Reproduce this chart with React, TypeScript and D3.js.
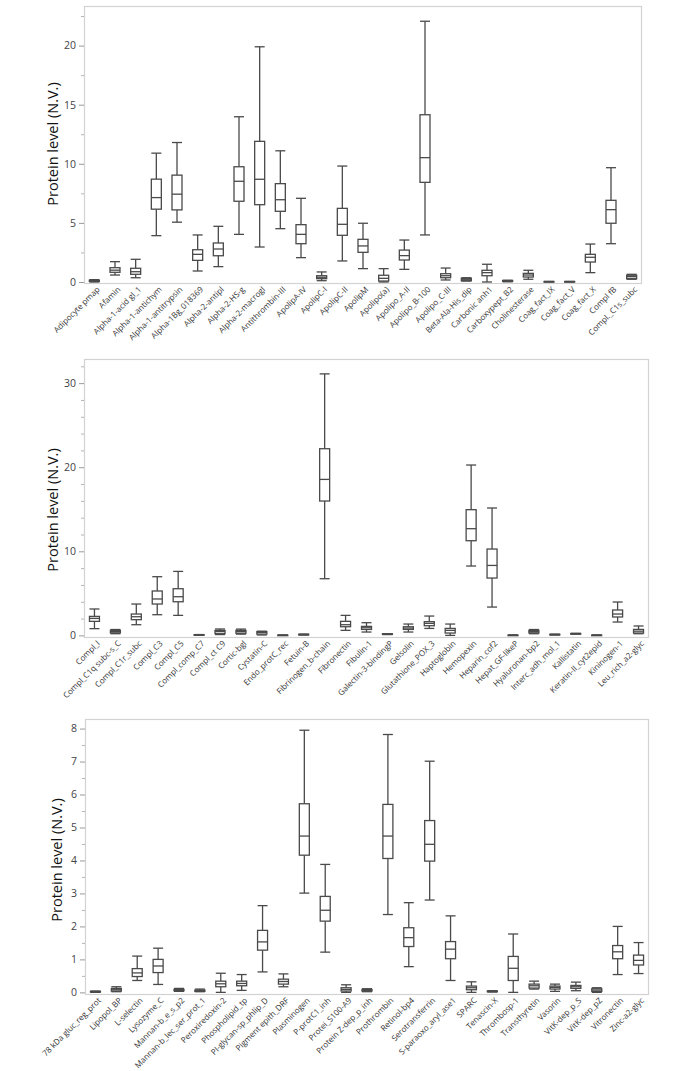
import { useEffect, useRef } from 'react'
import * as d3 from 'd3'

// panel 1
const names1 = ['Adipocyte pmap', 'Afamin', 'Alpha-1-acid gl_1', 'Alpha-1-antichym', 'Alpha-1-antitrypsin', 'Alpha-1Bg_018369', 'Alpha-2-antipl', 'Alpha-2-HS-g', 'Alpha-2-macrogl', 'Antithrombin-III', 'ApolipA-IV', 'ApolipC-I', 'ApolipC-II', 'ApolipM', 'Apolipo(a)', 'Apolipo_A-II', 'Apolipo_B-100', 'Apolipo_C-III', 'Beta-Ala-His_dip', 'Carbonic anh1', 'Carboxypept_B2', 'Cholinesterase', 'Coag_fact_IX', 'Coag_fact_V', 'Coag_fact_X', 'Compl fB', 'Compl._C1s_subc']
const lo1 = [0.0, 0.59, 0.36, 3.92, 5.06, 0.93, 1.3, 4.03, 2.96, 4.51, 2.06, 0.11, 1.78, 1.13, 0.0, 1.07, 3.98, 0.17, 0.08, 0.0, 0.02, 0.23, 0.01, 0.01, 0.79, 3.24, 0.23]
const q1s1 = [0.05, 0.82, 0.65, 6.16, 6.1, 1.83, 2.22, 6.83, 6.54, 5.98, 3.24, 0.28, 3.95, 2.51, 0.08, 1.86, 8.43, 0.36, 0.11, 0.53, 0.05, 0.42, 0.02, 0.02, 1.69, 4.97, 0.28]
const med1 = [0.1, 1.0, 0.87, 7.14, 7.43, 2.34, 2.79, 8.52, 8.69, 6.96, 4.03, 0.4, 4.88, 3.05, 0.31, 2.23, 10.52, 0.53, 0.23, 0.79, 0.08, 0.59, 0.03, 0.03, 2.09, 6.12, 0.45]
const q3s1 = [0.15, 1.21, 1.16, 8.7, 9.04, 2.73, 3.3, 9.75, 11.9, 8.32, 4.85, 0.53, 6.23, 3.61, 0.57, 2.7, 14.15, 0.7, 0.31, 0.99, 0.12, 0.73, 0.04, 0.04, 2.34, 6.91, 0.57]
const hi1 = [0.2, 1.72, 1.92, 10.9, 11.8, 3.98, 4.71, 13.98, 19.9, 11.1, 7.08, 0.85, 9.81, 4.97, 1.13, 3.55, 22.06, 1.18, 0.36, 1.5, 0.15, 0.99, 0.05, 0.05, 3.21, 9.67, 0.65]

// panel 2
const names2 = ['Compl_I', 'Compl_C1q subc-s_C', 'Compl_C1r_subc', 'Compl_C3', 'Compl_C5', 'Compl_comp_C7', 'Compl_ct C9', 'Cortic-bgl', 'Cystatin-C', 'Endo_protC_rec', 'Fetuin-B', 'Fibrinogen_b-chain', 'Fibronectin', 'Fibulin-1', 'Galectin-3-bindingP', 'Gelsolin', 'Glutathione_POX_3', 'Haptoglobin', 'Hemopexin', 'Heparin_cof2', 'Hepat_GF-likeP', 'Hyaluronan-bp2', 'Interc_adh_mol_1', 'Kallistatin', 'Keratin-II_cyt2epid', 'Kininogen-1', 'Leu_rich_a2-glyc']
const lo2 = [0.8, 0.2, 1.27, 2.46, 2.38, 0.02, 0.1, 0.15, 0.05, 0.0, 0.05, 6.74, 0.6, 0.4, 0.1, 0.4, 0.83, 0.0, 8.25, 3.37, 0.0, 0.2, 0.05, 0.15, 0.0, 1.59, 0.2]
const q1s2 = [1.67, 0.3, 1.87, 3.73, 4.0, 0.04, 0.2, 0.25, 0.15, 0.01, 0.07, 15.98, 1.03, 0.71, 0.12, 0.71, 1.15, 0.28, 11.26, 6.82, 0.01, 0.3, 0.08, 0.18, 0.01, 2.19, 0.28]
const med2 = [2.02, 0.45, 2.22, 4.33, 4.6, 0.06, 0.45, 0.45, 0.35, 0.02, 0.1, 18.55, 1.27, 0.91, 0.15, 0.87, 1.43, 0.6, 12.69, 8.32, 0.02, 0.45, 0.1, 0.2, 0.02, 2.54, 0.5]
const q3s2 = [2.26, 0.6, 2.54, 5.28, 5.55, 0.08, 0.6, 0.6, 0.45, 0.03, 0.13, 22.2, 1.67, 1.07, 0.18, 1.03, 1.63, 0.83, 14.95, 10.27, 0.03, 0.6, 0.12, 0.22, 0.03, 3.02, 0.71]
const hi2 = [3.14, 0.7, 3.73, 6.98, 7.61, 0.1, 0.76, 0.75, 0.5, 0.04, 0.15, 31.1, 2.38, 1.51, 0.2, 1.35, 2.3, 1.35, 20.26, 15.15, 0.04, 0.7, 0.15, 0.25, 0.04, 3.97, 1.12]

// panel 3
const names3 = ['78 kDa gluc_reg_prot', 'Lipopol_BP', 'L-selectin', 'Lysozyme_C', 'Mannan-b_e_s_p2', 'Mannan-b_lec_ser_prot_1', 'Peroxiredoxin-2', 'Phospholipid_tp', 'PI-glycan-sp_phlip_D', 'Pigment epith_DRF', 'Plasminogen', 'P-protC1_inh', 'Protei_S100-A9', 'Protein Z-dep_p_inh', 'Prothrombin', 'Retinol-bp4', 'Serotransferrin', 'S-paraoxo_aryl_ase1', 'SPARC', 'Tenascin-X', 'Thrombosp-1', 'Transthyretin', 'Vasorin', 'VitK-dep_p_S', 'VitK-dep_pZ', 'Vitronectin', 'Zinc-a2-glyc']
const lo3 = [0.0, 0.02, 0.36, 0.24, 0.03, 0.02, 0.0, 0.06, 0.62, 0.17, 3.01, 1.22, 0.0, 0.02, 2.36, 0.78, 2.8, 0.36, 0.0, 0.01, 0.0, 0.1, 0.03, 0.05, 0.0, 0.54, 0.57]
const q1s3 = [0.01, 0.04, 0.48, 0.6, 0.05, 0.03, 0.17, 0.2, 1.28, 0.25, 4.16, 2.16, 0.04, 0.04, 4.06, 1.39, 3.98, 1.02, 0.08, 0.02, 0.36, 0.13, 0.1, 0.12, 0.03, 1.02, 0.83]
const med3 = [0.02, 0.08, 0.59, 0.8, 0.07, 0.05, 0.26, 0.27, 1.53, 0.33, 4.74, 2.49, 0.09, 0.06, 4.74, 1.66, 4.49, 1.31, 0.14, 0.03, 0.73, 0.2, 0.15, 0.17, 0.07, 1.23, 0.97]
const q3s3 = [0.03, 0.12, 0.72, 1.0, 0.09, 0.07, 0.34, 0.34, 1.88, 0.4, 5.72, 2.91, 0.14, 0.09, 5.7, 1.96, 5.21, 1.54, 0.19, 0.04, 1.09, 0.25, 0.19, 0.21, 0.11, 1.42, 1.13]
const hi3 = [0.04, 0.17, 1.1, 1.34, 0.12, 0.1, 0.58, 0.54, 2.63, 0.56, 7.95, 3.88, 0.23, 0.11, 7.82, 2.72, 7.01, 2.32, 0.32, 0.05, 1.77, 0.34, 0.25, 0.31, 0.14, 2.0, 1.51]

const yTicks1 = [0, 5, 10, 15, 20]
const yTicks2 = [0, 10, 20, 30]
const yTicks3 = [0, 1, 2, 3, 4, 5, 6, 7, 8]

const yTitle = 'Protein level (N.V.)'

const panels = [
  { names: names1, lo: lo1, q1: q1s1, med: med1, q3: q3s1, hi: hi1, ticks: yTicks1, minor: 2.5, domain: [-0.17, 23.35], left: 84, right: 642, top: 6, bottom: 284, titleX: 53, titleY: 144 },
  { names: names2, lo: lo2, q1: q1s2, med: med2, q3: q3s2, hi: hi2, ticks: yTicks2, minor: 2, domain: [-0.31, 32.87], left: 84, right: 649, top: 359, bottom: 638, titleX: 53, titleY: 510 },
  { names: names3, lo: lo3, q1: q1s3, med: med3, q3: q3s3, hi: hi3, ticks: yTicks3, minor: 0.5, domain: [-0.08, 8.29], left: 85, right: 649, top: 719, bottom: 995, titleX: 57, titleY: 860 },
]

const font = "'Open Sans', 'Noto Sans', sans-serif"

export default function App() {
  const ref = useRef<SVGSVGElement>(null)

  useEffect(() => {
    if (!ref.current) return
    const svg = d3.select(ref.current)
    svg.selectAll('*').remove()

    panels.forEach((p) => {
      const g = svg.append('g')
      const x = d3.scaleBand().domain(p.names).range([p.left, p.right]).padding(0)
      const y = d3.scaleLinear().domain(p.domain).range([p.bottom, p.top])

      // frame
      g.append('rect')
        .attr('x', p.left + 0.5).attr('y', p.top + 0.5)
        .attr('width', p.right - p.left - 1).attr('height', p.bottom - p.top - 1)
        .attr('fill', 'none').attr('stroke', '#d2d2d2').attr('stroke-width', 1.2)

      // y axis: major + minor ticks
      const minorVals = d3.range(0, p.domain[1], p.minor).filter((v) => !p.ticks.includes(+v.toFixed(3)))
      g.append('g')
        .attr('transform', `translate(${p.left},0)`)
        .call(d3.axisLeft(y).tickValues(minorVals).tickSize(3).tickFormat(() => ''))
        .call((s) => {
          s.select('.domain').remove()
          s.selectAll('.tick line').attr('stroke', '#b5b5b5')
        })
      g.append('g')
        .attr('transform', `translate(${p.left},0)`)
        .call(d3.axisLeft(y).tickValues(p.ticks).tickSize(5).tickPadding(3).tickFormat(d3.format('d')))
        .call((s) => {
          s.select('.domain').remove()
          s.selectAll('.tick line').attr('stroke', '#9a9a9a')
          s.selectAll('.tick text').attr('fill', '#444').attr('font-size', '10.5px').attr('font-family', font)
        })

      // y title
      g.append('text')
        .attr('transform', `translate(${p.titleX},${p.titleY}) rotate(-90)`)
        .attr('text-anchor', 'middle').attr('dy', '0.35em')
        .attr('font-size', '14.5px').attr('font-family', font).attr('fill', '#111')
        .text(yTitle)

      // x labels
      g.selectAll('text.cat')
        .data(p.names)
        .join('text')
        .attr('class', 'cat')
        .attr('transform', (d) => `translate(${(x(d) ?? 0) + x.bandwidth() / 2 + 4},${p.bottom + 4}) rotate(-45)`)
        .attr('text-anchor', 'end').attr('dy', '0.35em')
        .attr('font-size', '8.1px').attr('font-family', font).attr('fill', '#333')
        .text((d) => d)

      // boxes
      const bw = 10
      const stroke = '#4a4a4a'
      const boxes = g.selectAll('g.box')
        .data(p.names.map((n, i) => ({ n, lo: p.lo[i], q1: p.q1[i], med: p.med[i], q3: p.q3[i], hi: p.hi[i] })))
        .join('g')
        .attr('class', 'box')
        .attr('transform', (d) => `translate(${(x(d.n) ?? 0) + x.bandwidth() / 2},0)`)
        .attr('stroke', stroke).attr('stroke-width', 1.3).attr('fill', 'none')

      boxes.append('line').attr('x1', 0).attr('x2', 0).attr('y1', (d) => y(d.hi)).attr('y2', (d) => y(d.q3))
      boxes.append('line').attr('x1', 0).attr('x2', 0).attr('y1', (d) => y(d.q1)).attr('y2', (d) => y(d.lo))
      boxes.append('line').attr('x1', -bw / 2).attr('x2', bw / 2).attr('y1', (d) => y(d.hi)).attr('y2', (d) => y(d.hi))
      boxes.append('line').attr('x1', -bw / 2).attr('x2', bw / 2).attr('y1', (d) => y(d.lo)).attr('y2', (d) => y(d.lo))
      boxes.append('rect')
        .attr('x', -bw / 2).attr('width', bw)
        .attr('y', (d) => y(d.q3)).attr('height', (d) => Math.max(0.5, y(d.q1) - y(d.q3)))
        .attr('fill', '#fff')
      boxes.append('line').attr('x1', -bw / 2).attr('x2', bw / 2).attr('y1', (d) => y(d.med)).attr('y2', (d) => y(d.med))
    })
  }, [])

  return (
    <svg ref={ref} width={685} height={1071} style={{ position: 'absolute', left: 0, top: 0, background: '#fff' }} />
  )
}
